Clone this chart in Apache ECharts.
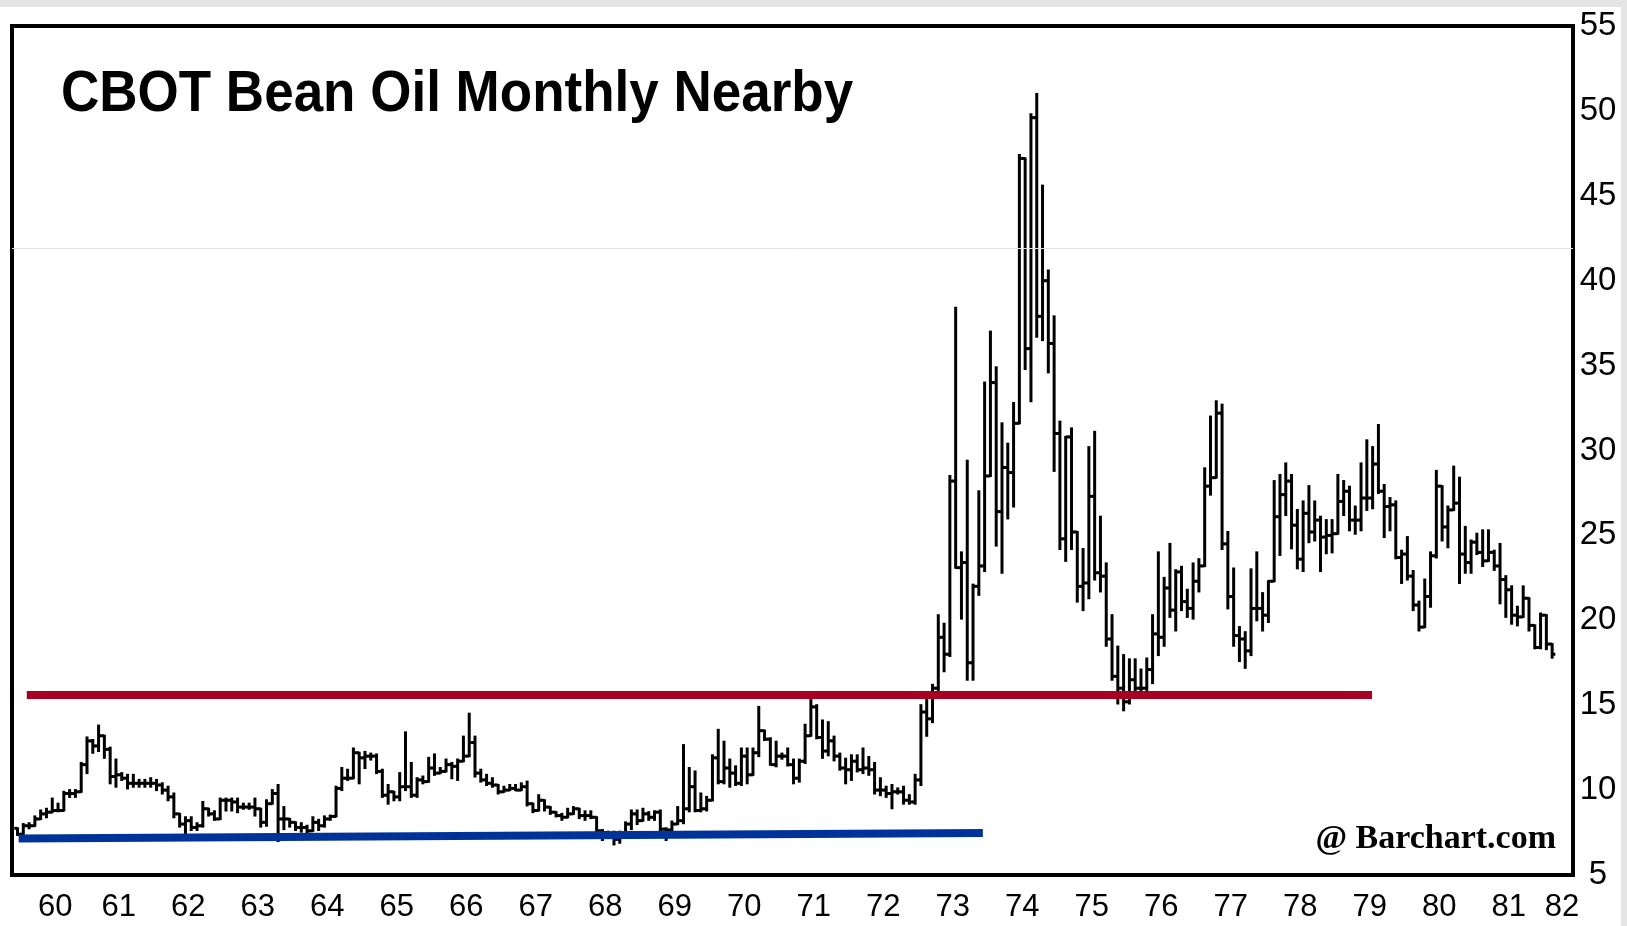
<!DOCTYPE html>
<html>
<head>
<meta charset="utf-8">
<title>CBOT Bean Oil Monthly Nearby</title>
<script src="https://cdn.jsdelivr.net/npm/echarts@6/dist/echarts.min.js"></script>
<style>
  html, body { margin: 0; padding: 0; background: #fff; }
  #chart { width: 1627px; height: 926px; }
</style>
</head>
<body>
<div id="chart"></div>
<script>
// monthly bars, Jan 1960 .. Feb 1982 (cents per lb), one row per year
const open = [
  7.75, 7.4, 7.9, 7.9, 8.3, 8.6, 8.7, 8.8, 8.8, 9.8, 9.8, 9.9,
  11.5, 12.9, 12.6, 13.2, 12.4, 10.8, 10.9, 10.7, 10.4, 10.4, 10.4, 10.4,
  10.4, 10.3, 10.0, 9.6, 8.6, 8.0, 8.2, 7.8, 7.9, 8.9, 8.6, 8.3,
  9.4, 9.4, 9.3, 9.0, 9.0, 9.0, 8.9, 8.1, 9.2, 9.8, 8.3, 8.3,
  8.1, 7.8, 7.8, 7.6, 8.1, 7.9, 8.3, 8.45, 10.1, 10.7, 10.7, 12.2,
  11.9, 12.0, 12.0, 11.1, 9.7, 9.9, 9.6, 10.2, 10.2, 9.7, 10.6, 10.5,
  11.3, 11.0, 11.1, 11.5, 11.4, 11.7, 12.0, 12.8, 11.0, 10.6, 10.4, 10.3,
  9.9, 10.0, 10.1, 10.0, 10.2, 9.2, 8.8, 9.4, 9.0, 8.7, 8.5, 8.4,
  8.6, 8.9, 8.5, 8.5, 8.4, 7.6, 7.5, 7.45, 7.1, 7.4, 8.0, 8.6,
  8.2, 8.6, 8.4, 8.7, 7.7, 7.65, 8.0, 8.2, 8.9, 10.2, 8.8, 8.9,
  9.4, 11.9, 10.5, 11.3, 11.0, 10.4, 12.0, 10.9, 12.2, 13.5, 13.0, 11.5,
  12.0, 12.0, 11.5, 10.7, 11.7, 13.2, 14.9, 13.1, 12.3, 12.9, 12.0, 11.3,
  11.2, 11.7, 11.2, 11.3, 11.2, 10.0, 10.0, 9.8, 9.9, 9.9, 9.4, 9.3,
  10.6, 14.6, 14.2, 16.0, 19.0, 18.0, 28.2, 23.1, 23.4, 17.5, 22.0, 23.2,
  28.5, 34.0, 26.4, 29.0, 28.7, 31.6, 47.2, 36.0, 49.6, 37.9, 40.0, 36.3,
  31.0, 24.8, 30.8, 25.2, 22.0, 22.2, 27.3, 22.8, 22.6, 18.9, 16.7, 16.0,
  15.2, 16.5, 16.0, 16.0, 17.1, 19.2, 19.0, 21.9, 20.6, 22.85, 21.1, 20.7,
  22.3, 23.2, 27.9, 28.4, 32.2, 24.5, 21.4, 19.1, 18.9, 18.2, 20.7, 20.7,
  20.3, 22.3, 26.1, 27.4, 28.2, 25.6, 23.6, 26.3, 25.2, 25.9, 24.9, 25.0,
  25.1, 27.0, 27.6, 25.9, 25.9, 27.2, 27.2, 29.2, 27.6, 26.7, 26.8, 23.7,
  23.9, 22.6, 20.9, 19.6, 21.4, 23.8, 27.9, 25.5, 26.5, 26.9, 23.9, 23.4,
  24.6, 24.0, 23.5, 24.0, 23.2, 22.4, 21.8, 20.3, 20.2, 21.3, 19.7, 18.4,
  20.3, 18.6
];
const high = [
  7.75, 8.0, 8.05, 8.45, 8.8, 8.9, 9.5, 9.2, 9.9, 10.0, 10.0, 11.6,
  13.1, 12.95, 13.8, 13.2, 12.5, 11.8, 11.0, 10.9, 10.9, 10.6, 10.6, 10.7,
  10.6, 10.4, 10.2, 9.8, 8.6, 8.4, 8.4, 8.05, 9.3, 8.9, 8.75, 9.5,
  9.5, 9.5, 9.5, 9.2, 9.2, 9.5, 8.9, 9.4, 10.0, 10.3, 9.0, 8.3,
  8.1, 8.05, 7.9, 8.4, 8.25, 8.45, 8.5, 10.2, 11.3, 11.2, 12.45, 12.2,
  12.25, 12.15, 12.1, 11.2, 10.3, 9.9, 11.0, 13.4, 11.6, 10.7, 10.8, 11.9,
  12.1, 11.3, 11.8, 11.6, 11.8, 13.15, 14.5, 13.15, 11.2, 10.9, 10.7, 10.3,
  10.2, 10.3, 10.3, 10.4, 10.5, 9.2, 9.7, 9.4, 9.0, 8.7, 8.6, 8.9,
  9.0, 8.9, 8.75, 8.75, 8.4, 7.65, 7.55, 7.55, 7.55, 8.1, 8.8, 8.8,
  8.9, 8.7, 8.75, 8.8, 7.75, 8.15, 9.0, 12.65, 11.3, 11.1, 9.8, 9.6,
  12.05, 13.55, 12.85, 11.8, 11.4, 12.45, 12.45, 12.45, 14.9, 13.5, 13.05, 12.85,
  12.15, 12.45, 11.8, 11.8, 13.85, 15.3, 15.0, 14.1, 14.0, 13.15, 12.15, 11.85,
  12.05, 12.05, 12.45, 11.95, 11.6, 10.7, 10.2, 10.3, 10.1, 10.2, 9.7, 10.9,
  15.0, 15.5, 16.2, 20.3, 19.8, 28.5, 38.4, 24.0, 29.4, 22.1, 27.6, 34.0,
  37.0, 34.9, 31.6, 30.4, 32.8, 47.4, 47.2, 49.8, 51.0, 45.6, 40.6, 37.9,
  31.7, 30.8, 31.3, 25.2, 24.2, 30.2, 31.1, 26.1, 23.35, 20.3, 18.45, 17.95,
  17.7, 17.7, 17.1, 17.75, 20.3, 24.0, 22.5, 24.5, 22.95, 23.15, 21.8, 23.35,
  23.6, 28.95, 32.0, 32.9, 32.7, 25.2, 23.05, 19.6, 19.3, 23.0, 24.0, 21.6,
  22.3, 28.2, 28.56, 29.24, 28.56, 26.5, 27.0, 27.9, 27.0, 26.1, 25.9, 25.9,
  28.56, 28.2, 27.87, 26.7, 29.24, 30.6, 30.2, 31.5, 27.97, 27.2, 27.0, 24.1,
  24.9, 22.9, 21.1, 22.4, 24.0, 28.8, 27.9, 26.7, 29.05, 28.4, 25.5, 24.7,
  25.1, 25.3, 25.3, 24.1, 24.5, 22.6, 22.0, 20.8, 22.0, 21.3, 19.7, 20.4,
  20.3, 18.6
];
const low = [
  7.36, 7.4, 7.75, 7.9, 8.3, 8.4, 8.7, 8.75, 8.8, 9.6, 9.6, 9.9,
  11.0, 12.2, 12.3, 11.9, 10.4, 10.2, 10.6, 10.1, 10.2, 10.2, 10.2, 10.2,
  10.0, 9.8, 9.4, 8.4, 7.85, 7.45, 7.65, 7.65, 7.85, 8.5, 8.25, 8.3,
  8.8, 8.8, 8.7, 8.9, 8.9, 8.5, 7.85, 7.9, 9.2, 7.0, 7.7, 7.85,
  7.65, 7.55, 7.45, 7.6, 7.65, 7.85, 8.25, 8.45, 10.0, 10.6, 10.7, 10.4,
  11.3, 11.8, 11.0, 9.6, 9.2, 9.4, 9.4, 10.0, 9.6, 9.6, 10.4, 10.5,
  10.9, 11.0, 11.1, 10.7, 10.6, 11.7, 12.0, 10.8, 10.5, 10.3, 10.2, 9.8,
  9.9, 10.0, 10.0, 10.0, 9.1, 8.7, 8.8, 8.8, 8.6, 8.45, 8.25, 8.4,
  8.6, 8.35, 8.25, 8.35, 7.55, 7.06, 7.36, 6.8, 6.9, 7.4, 7.7, 8.0,
  8.2, 8.25, 8.25, 7.65, 7.06, 7.65, 8.0, 8.05, 8.75, 8.75, 8.75, 8.8,
  9.4, 10.4, 10.4, 10.2, 10.3, 10.3, 10.4, 10.9, 12.0, 12.95, 11.5, 11.4,
  11.85, 11.45, 10.4, 10.5, 11.6, 13.2, 13.05, 11.9, 12.05, 11.75, 11.2, 10.4,
  10.6, 11.1, 11.0, 10.9, 9.8, 9.7, 9.6, 8.93, 9.8, 9.2, 9.2, 9.2,
  10.3, 13.2, 14.0, 15.9, 17.0, 17.9, 23.1, 20.1, 16.5, 16.5, 21.5, 22.9,
  28.5, 24.4, 22.8, 26.0, 26.7, 31.6, 34.8, 32.9, 36.7, 36.5, 34.6, 28.8,
  24.2, 23.5, 24.2, 21.1, 20.6, 21.3, 22.4, 21.7, 18.5, 16.5, 15.1, 14.7,
  15.1, 15.8, 15.8, 15.9, 16.3, 17.95, 18.5, 20.2, 19.4, 20.6, 20.2, 20.1,
  21.7, 23.2, 27.4, 28.4, 24.2, 20.7, 18.5, 17.6, 17.2, 17.95, 20.0, 19.4,
  19.9, 22.3, 23.85, 26.2, 24.24, 23.06, 22.9, 24.6, 24.7, 22.9, 23.95, 24.0,
  25.1, 26.2, 25.3, 25.1, 25.3, 26.5, 26.6, 27.5, 24.9, 25.3, 23.65, 22.2,
  22.4, 20.6, 19.4, 19.6, 20.8, 23.7, 24.7, 24.3, 26.5, 22.2, 22.8, 22.8,
  23.9, 23.2, 23.5, 22.97, 21.0, 20.2, 19.8, 19.7, 20.2, 19.4, 18.35, 18.35,
  18.3, 17.8
];
const close = [
  7.4, 7.9, 7.9, 8.3, 8.6, 8.7, 8.8, 8.8, 9.8, 9.8, 9.9, 11.5,
  12.9, 12.6, 13.2, 12.4, 10.8, 10.9, 10.7, 10.4, 10.4, 10.4, 10.4, 10.4,
  10.3, 10.0, 9.6, 8.6, 8.0, 8.2, 7.8, 7.9, 8.9, 8.6, 8.3, 9.4,
  9.4, 9.3, 9.0, 9.0, 9.0, 8.9, 8.1, 9.2, 9.8, 8.3, 8.3, 8.1,
  7.8, 7.8, 7.6, 8.1, 7.9, 8.3, 8.45, 10.1, 10.7, 10.7, 12.2, 11.9,
  12.0, 12.0, 11.1, 9.7, 9.9, 9.6, 10.2, 10.2, 9.7, 10.6, 10.5, 11.3,
  11.0, 11.1, 11.5, 11.4, 11.7, 12.0, 12.8, 11.0, 10.6, 10.4, 10.3, 9.9,
  10.0, 10.1, 10.0, 10.2, 9.2, 8.8, 9.4, 9.0, 8.7, 8.5, 8.4, 8.6,
  8.9, 8.5, 8.5, 8.4, 7.6, 7.5, 7.45, 7.1, 7.4, 8.0, 8.6, 8.2,
  8.6, 8.4, 8.7, 7.7, 7.65, 8.0, 8.2, 8.9, 10.2, 8.8, 8.9, 9.4,
  11.9, 10.5, 11.3, 11.0, 10.4, 12.0, 10.9, 12.2, 13.5, 13.0, 11.5, 12.0,
  12.0, 11.5, 10.7, 11.7, 13.2, 14.9, 13.1, 12.3, 12.9, 12.0, 11.3, 11.2,
  11.7, 11.2, 11.3, 11.2, 10.0, 10.0, 9.8, 9.9, 9.9, 9.4, 9.3, 10.6,
  14.6, 14.2, 16.0, 19.0, 18.0, 28.2, 23.1, 23.4, 17.5, 22.0, 23.2, 28.5,
  34.0, 26.4, 29.0, 28.7, 31.6, 47.2, 36.0, 49.6, 37.9, 40.0, 36.3, 31.0,
  24.8, 30.8, 25.2, 22.0, 22.2, 27.3, 22.8, 22.6, 18.9, 16.7, 16.0, 15.2,
  16.5, 16.0, 16.0, 17.1, 19.2, 19.0, 21.9, 20.6, 22.85, 21.1, 20.7, 22.3,
  23.2, 27.9, 28.4, 32.2, 24.5, 21.4, 19.1, 18.9, 18.2, 20.7, 20.7, 20.3,
  22.3, 26.1, 27.4, 28.2, 25.6, 23.6, 26.3, 25.2, 25.9, 24.9, 25.0, 25.1,
  27.0, 27.6, 25.9, 25.9, 27.2, 27.2, 29.2, 27.6, 26.7, 26.8, 23.7, 23.9,
  22.6, 20.9, 19.6, 21.4, 23.8, 27.9, 25.5, 26.5, 26.9, 23.9, 23.4, 24.6,
  24.0, 23.5, 24.0, 23.2, 22.4, 21.8, 20.3, 20.2, 21.3, 19.7, 18.4, 20.3,
  18.6, 18.0
];

const yearLabels = ['60', '61', '62', '63', '64', '65', '66', '67', '68', '69', '70', '71',
  '72', '73', '74', '75', '76', '77', '78', '79', '80', '81', '82'];

// trend lines: [month index, price]
const resistanceLine = [[1.6, 15.6], [233.9, 15.6]];
const supportLine = [[0.2, 7.15], [166.7, 7.47]];

// year labels sit mid-year; the first and last are nudged as in the original
const labelPos = yearLabels.map((_, i) => {
  if (i === 0) return 6.5;
  if (i === yearLabels.length - 1) return 266.7;
  return 12 * i + 5.5;
});

const bars = close.map((c, i) => [i, open[i], high[i], low[i], c]);

const chart = echarts.init(document.getElementById('chart'));

const renderBar = (params, api) => {
  const x = api.value(0);
  const hi = api.coord([x, api.value(2)]);
  const lo = api.coord([x, api.value(3)]);
  const o = api.coord([x, api.value(1)]);
  const c = api.coord([x, api.value(4)]);
  const style = { stroke: '#000', lineWidth: 3 };
  return {
    type: 'group',
    children: [
      { type: 'line', shape: { x1: hi[0], y1: hi[1] - 1, x2: lo[0], y2: lo[1] + 1 }, style },
      { type: 'line', shape: { x1: o[0] - 3.2, y1: o[1], x2: o[0], y2: o[1] }, style },
      { type: 'line', shape: { x1: c[0], y1: c[1], x2: c[0] + 3.2, y2: c[1] }, style }
    ]
  };
};

const option = {
  backgroundColor: '#fff',
  animation: false,
  grid: {
    left: 12, right: 54, top: 26, bottom: 51,
    show: true, borderColor: '#000', borderWidth: 4, backgroundColor: '#fff'
  },
  xAxis: {
    type: 'value',
    min: -0.95,
    max: 268.6,
    axisLine: { show: false },
    axisTick: { show: false },
    splitLine: { show: false },
    axisLabel: {
      customValues: labelPos,
      formatter: (v) => yearLabels[labelPos.indexOf(v)] || '',
      color: '#000',
      fontSize: 31,
      fontFamily: 'Liberation Sans, Arial, sans-serif',
      margin: 17
    }
  },
  yAxis: {
    type: 'value',
    position: 'right',
    min: 5,
    max: 55,
    interval: 5,
    axisLine: { show: false },
    axisTick: { show: false },
    splitLine: { show: false },
    axisLabel: {
      color: '#000',
      fontSize: 33,
      fontFamily: 'Liberation Sans, Arial, sans-serif',
      align: 'center',
      margin: 25
    }
  },
  graphic: [
    { type: 'rect', left: 0, top: 0, shape: { width: 1627, height: 7 }, style: { fill: '#e4e4e4' }, z: -1 },
    { type: 'rect', right: 0, top: 0, shape: { width: 6, height: 926 }, style: { fill: '#e4e4e4' }, z: -1 },
    {
      type: 'text', x: 61, y: 104, scaleY: 1.08, originY: 104,
      style: {
        text: 'CBOT Bean Oil Monthly Nearby',
        font: 'bold 53px "Liberation Sans", Arial, sans-serif',
        fill: '#000', verticalAlign: 'middle'
      },
      z: 10
    },
    {
      type: 'text', x: 1556, y: 839,
      style: {
        text: '@ Barchart.com',
        font: 'bold 34px "Liberation Serif", "Times New Roman", serif',
        fill: '#000', align: 'right', verticalAlign: 'middle'
      },
      z: 10
    }
  ],
  series: [
    {
      name: 'Bean Oil',
      type: 'custom',
      renderItem: renderBar,
      data: bars,
      encode: { x: 0, y: [1, 2, 3, 4] },
      clip: true,
      z: 2,
      markLine: {
        silent: true,
        symbol: 'none',
        label: { show: false },
        lineStyle: { color: '#e2e2e2', width: 1, type: 'solid' },
        data: [{ yAxis: 41.9 }]
      }
    },
    {
      name: 'Resistance',
      type: 'line',
      data: resistanceLine,
      symbol: 'none',
      lineStyle: { color: '#a50021', width: 8 },
      z: 5
    },
    {
      name: 'Support',
      type: 'line',
      data: supportLine,
      symbol: 'none',
      lineStyle: { color: '#003399', width: 8 },
      z: 5
    }
  ]
};

chart.setOption(option);
window.addEventListener('resize', () => chart.resize());
</script>
</body>
</html>
